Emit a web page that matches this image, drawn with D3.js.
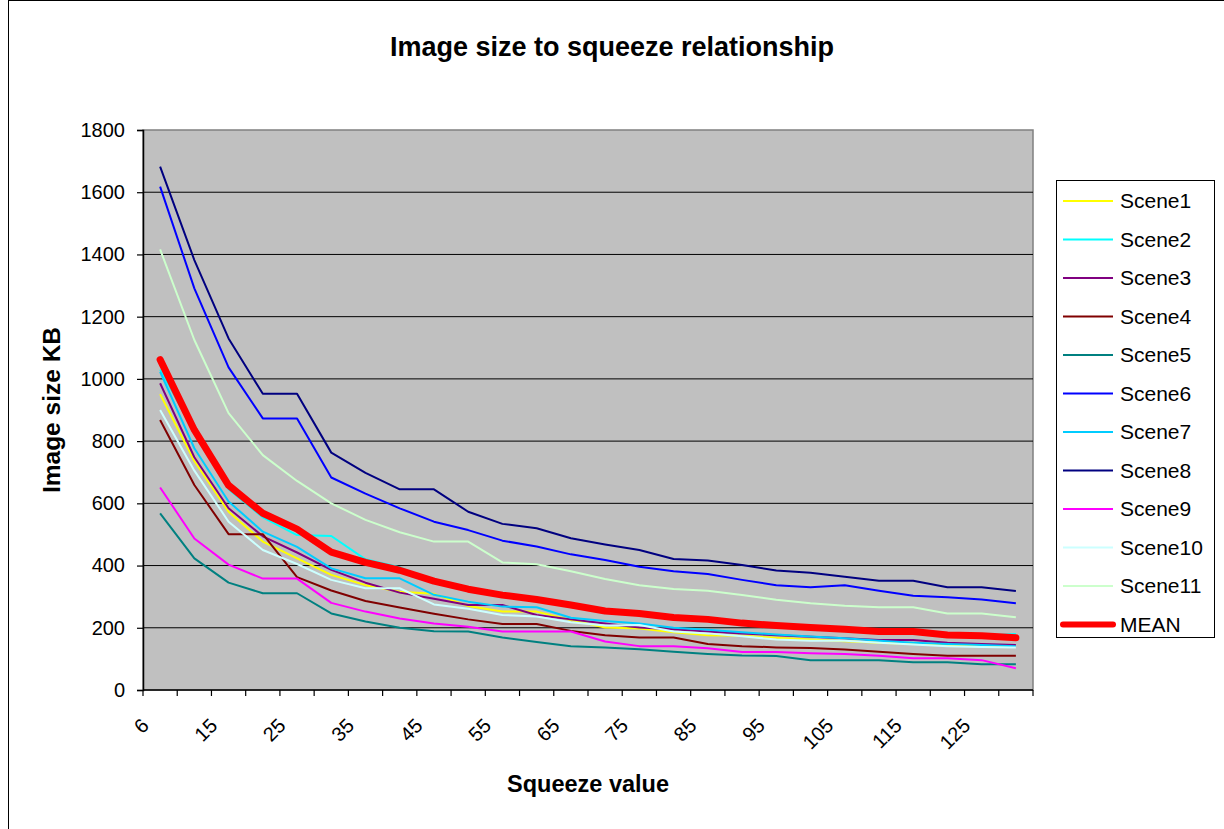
<!DOCTYPE html>
<html>
  <head>
    <meta charset="utf-8">
    <title>Image size to squeeze relationship</title>
    <style>
      body { margin: 0; background: #fff; }
      text { font-family: Arial, "Liberation Sans", sans-serif; }
    </style>
  </head>
  <body>
    <script src="https://d3js.org/d3.v7.min.js"></script>
    <svg id="chart" width="1224" height="829"></svg>
    <script>
      // squeeze values (categories on the x axis)
      const categories = [6, 10, 15, 20, 25, 30, 35, 40, 45, 50, 55, 60, 65, 70, 75, 80, 85, 90, 95, 100, 105, 110, 115, 120, 125, 130]
      const yTicks = [0, 200, 400, 600, 800, 1000, 1200, 1400, 1600, 1800]

      // image size in KB
      const scene1 = [951, 736, 573, 477, 423, 370, 337, 316, 309, 270, 252, 252, 225, 201, 198, 186, 176, 174, 168, 162, 157, 152, 148, 145, 140, 138]
      const scene2 = [1030, 830, 645, 555, 498, 495, 420, 395, 345, 318, 300, 288, 268, 250, 240, 228, 222, 210, 202, 196, 190, 184, 184, 176, 174, 180]
      const scene3 = [986, 748, 584, 494, 442, 386, 345, 313, 293, 273, 273, 241, 227, 214, 201, 195, 188, 182, 176, 171, 166, 161, 161, 152, 148, 145]
      const scene4 = [868, 659, 501, 501, 363, 320, 286, 265, 245, 227, 212, 212, 190, 176, 169, 169, 148, 141, 137, 135, 130, 123, 116, 110, 110, 110]
      const scene5 = [568, 423, 345, 311, 311, 246, 220, 200, 189, 188, 169, 154, 141, 137, 131, 123, 116, 111, 109, 96, 96, 96, 89, 89, 83, 83]
      const scene6 = [1618, 1291, 1037, 873, 873, 683, 631, 584, 541, 514, 480, 461, 436, 418, 396, 382, 373, 354, 337, 330, 337, 319, 303, 298, 291, 279]
      const scene7 = [1023, 777, 606, 509, 460, 391, 359, 359, 306, 284, 268, 266, 232, 222, 214, 200, 194, 186, 178, 172, 166, 158, 152, 148, 145, 141]
      const scene8 = [1682, 1382, 1130, 952, 952, 763, 698, 645, 645, 573, 534, 520, 488, 468, 450, 421, 416, 402, 384, 377, 364, 351, 351, 330, 330, 318]
      const scene9 = [651, 487, 403, 358, 358, 280, 252, 230, 214, 203, 188, 188, 188, 156, 141, 141, 134, 122, 122, 118, 116, 110, 102, 102, 96, 70]
      const scene10 = [900, 705, 541, 450, 405, 354, 327, 327, 275, 261, 241, 236, 218, 207, 209, 188, 182, 173, 162, 158, 158, 152, 146, 141, 138, 137]
      const scene11 = [1416, 1125, 890, 755, 672, 600, 547, 507, 477, 477, 410, 404, 382, 357, 337, 325, 319, 305, 290, 279, 271, 266, 266, 246, 246, 234]
      const mean = [1062, 836, 658, 568, 517, 443, 410, 385, 350, 324, 305, 291, 273, 254, 246, 233, 227, 215, 207, 201, 195, 188, 188, 177, 174, 168]

      const seriesNames = ["Scene1", "Scene2", "Scene3", "Scene4", "Scene5", "Scene6", "Scene7", "Scene8", "Scene9", "Scene10", "Scene11", "MEAN"]
      const seriesValues = [scene1, scene2, scene3, scene4, scene5, scene6, scene7, scene8, scene9, scene10, scene11, mean]
      const seriesColors = ["#FFFF00", "#00FFFF", "#800080", "#800000", "#008080", "#0000FF", "#00CCFF", "#000080", "#FF00FF", "#CCFFFF", "#CCFFCC", "#FF0000"]

      const series = seriesNames.map((name, i) => ({
        name,
        color: seriesColors[i],
        width: name == "MEAN" ? 7 : 2,
        values: seriesValues[i]
      }))

      const plot = {left: 143, right: 1033, top: 130, bottom: 690}

      const svg = d3.select('#chart')

      // outer chart frame
      svg.append('rect')
        .attr('x', 8.5).attr('y', 0.5)
        .attr('width', 1240).attr('height', 840)
        .attr('fill', '#fff')
        .attr('stroke', '#000')

      const x = d3.scaleBand().domain(categories).range([plot.left, plot.right]).padding(0)
      const y = d3.scaleLinear().domain([0, 1800]).range([plot.bottom, plot.top])

      // plot area
      svg.append('rect')
        .attr('x', plot.left).attr('y', plot.top)
        .attr('width', plot.right - plot.left).attr('height', plot.bottom - plot.top)
        .attr('fill', '#C0C0C0')
        .attr('stroke', '#808080')
        .attr('stroke-width', 1.5)

      // gridlines
      svg.append('g')
        .selectAll('line')
        .data(yTicks.filter(d => d > 0 && d < 1800))
        .join('line')
        .attr('x1', plot.left).attr('x2', plot.right)
        .attr('y1', d => y(d)).attr('y2', d => y(d))
        .attr('stroke', '#000')
        .attr('stroke-width', 1)

      // y axis
      const yAxis = svg.append('g')
        .attr('transform', `translate(${plot.left},0)`)
        .call(d3.axisLeft(y).tickValues(yTicks).tickSize(6).tickPadding(12).tickFormat(d3.format('d')))
      yAxis.select('.domain').attr('stroke', '#000').attr('stroke-width', 1.5)
      yAxis.selectAll('.tick line').attr('stroke', '#000').attr('stroke-width', 1.2)
      yAxis.selectAll('.tick text')
        .attr('font-size', 20)
        .attr('font-family', 'Arial, "Liberation Sans", sans-serif')
        .attr('fill', '#000')

      // x axis: ticks on band edges, labels on every other category
      const xg = svg.append('g')
      xg.append('line')
        .attr('x1', plot.left).attr('x2', plot.right)
        .attr('y1', plot.bottom).attr('y2', plot.bottom)
        .attr('stroke', '#000').attr('stroke-width', 1.5)
      xg.selectAll('line.tick')
        .data(categories.concat(['end']))
        .join('line')
        .attr('class', 'tick')
        .attr('x1', d => d == 'end' ? plot.right : x(d))
        .attr('x2', d => d == 'end' ? plot.right : x(d))
        .attr('y1', plot.bottom).attr('y2', plot.bottom + 6)
        .attr('stroke', '#000').attr('stroke-width', 1.2)
      xg.selectAll('text')
        .data(categories.filter((d, i) => i % 2 == 0))
        .join('text')
        .attr('transform', d => `translate(${x(d) + x.bandwidth() / 2 - 15},722) rotate(-45)`)
        .attr('text-anchor', 'end')
        .attr('dy', '0.35em')
        .attr('font-size', 20)
        .text(d => d)

      // lines
      const line = d3.line()
        .x((d, i) => x(categories[i]) + x.bandwidth() / 2)
        .y(d => y(d))

      svg.append('g')
        .selectAll('path')
        .data(series)
        .join('path')
        .attr('d', d => line(d.values))
        .attr('fill', 'none')
        .attr('stroke', d => d.color)
        .attr('stroke-width', d => d.width)
        .attr('stroke-linejoin', 'round')
        .attr('stroke-linecap', d => d.name == "MEAN" ? 'round' : 'butt')

      // titles
      svg.append('text')
        .attr('x', 612).attr('y', 56)
        .attr('text-anchor', 'middle')
        .attr('font-size', 27)
        .attr('font-weight', 'bold')
        .text('Image size to squeeze relationship')

      svg.append('text')
        .attr('x', (plot.left + plot.right) / 2).attr('y', 792)
        .attr('text-anchor', 'middle')
        .attr('font-size', 23.5)
        .attr('font-weight', 'bold')
        .text('Squeeze value')

      svg.append('text')
        .attr('transform', `translate(60,${(plot.top + plot.bottom) / 2}) rotate(-90)`)
        .attr('text-anchor', 'middle')
        .attr('font-size', 24.5)
        .attr('font-weight', 'bold')
        .text('Image size KB')

      // legend
      const legend = svg.append('g')
      legend.append('rect')
        .attr('x', 1056.5).attr('y', 180.5)
        .attr('width', 158).attr('height', 457)
        .attr('fill', '#fff')
        .attr('stroke', '#000')
      const item = legend.selectAll('g.item')
        .data(series)
        .join('g')
        .attr('class', 'item')
        .attr('transform', (d, i) => `translate(0,${201 + i * 38.5})`)
      item.append('line')
        .attr('x1', 1063).attr('x2', 1113)
        .attr('stroke', d => d.color)
        .attr('stroke-width', d => d.name == "MEAN" ? 6 : 2)
        .attr('stroke-linecap', d => d.name == "MEAN" ? 'round' : 'butt')
      item.append('text')
        .attr('x', 1120)
        .attr('dy', '0.35em')
        .attr('font-size', 21)
        .text(d => d.name)
    </script>
  </body>
</html>
